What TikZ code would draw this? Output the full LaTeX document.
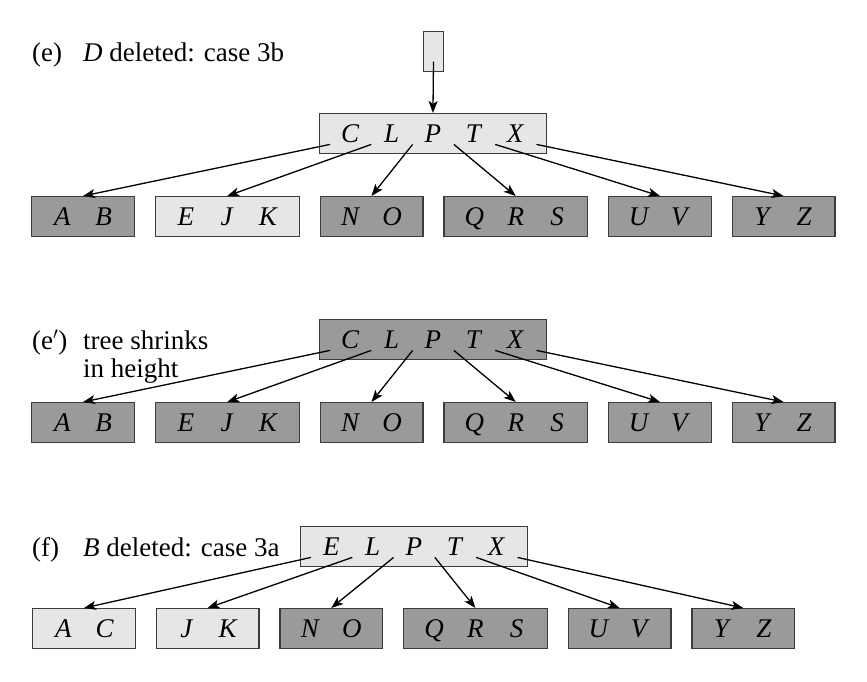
\documentclass[tikz,border=0pt]{standalone}
\usepackage{fontspec}
\setmainfont{Liberation Serif}
\usetikzlibrary{arrows.meta, positioning, calc}

\definecolor{lightkey}{HTML}{E6E6E6}
\definecolor{darkkey}{HTML}{9A9A9A}
\definecolor{boxline}{HTML}{3C3C3C}

\newcommand{\K}[1]{\makebox[41.3pt]{\textit{#1}}}
\newcommand{\plabel}[1]{\makebox[51pt][l]{#1}}

\begin{document}
\begin{tikzpicture}[
      x=1pt, y=-1pt,
      font=\fontsize{27}{29}\selectfont,
      node distance=19.6pt,
      keys/.style={rectangle, draw=boxline, line width=1.4pt, inner xsep=10pt, inner ysep=0pt, minimum height=40pt, text height=17.7pt, text depth=0pt},
      light/.style={keys, fill=lightkey},
      dark/.style={keys, fill=darkkey},
      ptr/.style={-{Stealth[length=12pt, width=9pt, inset=3pt]}, line width=1.3pt},
      caption/.style={anchor=base west, inner sep=0pt}
    ]
    \useasboundingbox (0,0) rectangle (867,681);

    \node[caption] (le) at (32,61) {\plabel{(e)}\textit{D} deleted: case 3b};
    \node[light, minimum width=20pt, inner xsep=0pt] (etop) at (433.5,51.5) {};
    \node[light, anchor=north west] (er) at (319,113) {\K{C}\K{L}\K{P}\K{T}\K{X}};
    \node[dark, anchor=north west] (e1) at (31,196) {\K{A}\K{B}};
    \node[light, right=of e1] (e2) {\K{E}\K{J}\K{K}};
    \node[dark, right=of e2] (e3) {\K{N}\K{O}};
    \node[dark, right=of e3] (e4) {\K{Q}\K{R}\K{S}};
    \node[dark, right=of e4] (e5) {\K{U}\K{V}};
    \node[dark, right=of e5] (e6) {\K{Y}\K{Z}};

    \node[caption] (lp) at (32,349) {\plabel{(e$'$)}tree shrinks};
    \node[caption] (lp2) at (83,377) {in height};
    \node[dark, anchor=north west] (pr) at (319,319) {\K{C}\K{L}\K{P}\K{T}\K{X}};
    \node[dark, anchor=north west] (p1) at (31,402) {\K{A}\K{B}};
    \node[dark, right=of p1] (p2) {\K{E}\K{J}\K{K}};
    \node[dark, right=of p2] (p3) {\K{N}\K{O}};
    \node[dark, right=of p3] (p4) {\K{Q}\K{R}\K{S}};
    \node[dark, right=of p4] (p5) {\K{U}\K{V}};
    \node[dark, right=of p5] (p6) {\K{Y}\K{Z}};

    \node[caption] (lf) at (32,556) {\plabel{(f)}\textit{B} deleted: case 3a};
    \node[light, anchor=north west] (fr) at (300,526) {\K{E}\K{L}\K{P}\K{T}\K{X}};
    \node[light, anchor=north west] (f1) at (32,608) {\K{A}\K{C}};
    \node[light, right=of f1] (f2) {\K{J}\K{K}};
    \node[dark, right=of f2] (f3) {\K{N}\K{O}};
    \node[dark, right=of f3] (f4) {\K{Q}\K{R}\K{S}};
    \node[dark, right=of f4] (f5) {\K{U}\K{V}};
    \node[dark, right=of f5] (f6) {\K{Y}\K{Z}};

    \coordinate (etop0) at ($(etop.center)+(0,10)$);
    \draw[ptr] (etop0) -- (er.north);
    \foreach \t in {e, p, f} {
      \foreach \i [count=\j] in {0,...,5} {
        \coordinate (\t r\i) at ($(\t r.south west)+(11+41.3*\i,-10)$);
        \draw[ptr] (\t r\i) -- (\t\j.north);
      }
    }
  \end{tikzpicture}
\end{document}
